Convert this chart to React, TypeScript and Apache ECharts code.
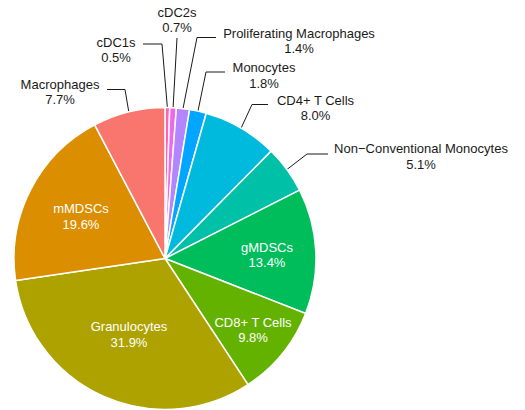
import React, { useEffect, useRef } from "react";
import * as echarts from "echarts";

// Cell-type composition, clockwise from 12 o'clock
const cellTypes = [
  "cDC1s",
  "cDC2s",
  "Proliferating Macrophages",
  "Monocytes",
  "CD4+ T Cells",
  "Non\u2212Conventional Monocytes",
  "gMDSCs",
  "CD8+ T Cells",
  "Granulocytes",
  "mMDSCs",
  "Macrophages",
];
const percents = [0.5, 0.7, 1.4, 1.8, 8.0, 5.1, 13.4, 9.8, 31.9, 19.6, 7.7];
const sliceColors = [
  "#FF63B6",
  "#EF67EB",
  "#B385FF",
  "#00A6FF",
  "#00BADE",
  "#00C1A7",
  "#00BD5C",
  "#64B200",
  "#AEA200",
  "#DB8E00",
  "#F8766D",
];
// labels printed on top of their slice (white, no leader line)
const insideLabels = ["gMDSCs", "CD8+ T Cells", "Granulocytes", "mMDSCs"];

// label placement: text block centre, and leader elbow/end points
const labelPlacement: Record<string, { at: [number, number]; line?: number[][] }> = {
  cDC1s: { at: [116, 50], line: [[162, 44], [143, 44]] },
  cDC2s: { at: [177, 20], line: [[177, 38], [177, 38]] },
  "Proliferating Macrophages": { at: [299, 41], line: [[197, 37.5], [216, 37.5]] },
  Monocytes: { at: [264, 75.5], line: [[206, 72], [225, 72]] },
  "CD4+ T Cells": { at: [315.5, 108], line: [[252, 104.5], [268, 104.5]] },
  "Non\u2212Conventional Monocytes": { at: [421, 156.5], line: [[307, 154], [328, 154]] },
  gMDSCs: { at: [267, 255] },
  "CD8+ T Cells": { at: [253, 330] },
  Granulocytes: { at: [129, 334.5] },
  mMDSCs: { at: [81, 216.5] },
  Macrophages: { at: [60, 92], line: [[125, 89.5], [107, 89.5]] },
};

const CX = 165;
const CY = 258.5;
const R = 151;

export default function App() {
  const ref = useRef<HTMLDivElement>(null);

  useEffect(() => {
    if (!ref.current) return;
    const chart = echarts.init(ref.current, undefined, { renderer: "svg" });

    const total = percents.reduce((a, b) => a + b, 0);
    const edgePoint = (idx: number): number[] => {
      let before = 0;
      for (let i = 0; i < idx; i++) before += percents[i];
      const mid = ((before + percents[idx] / 2) / total) * Math.PI * 2;
      return [CX + R * Math.sin(mid), CY - R * Math.cos(mid)];
    };

    const data = cellTypes.map((name, i) => {
      const inside = insideLabels.includes(name);
      return {
        name,
        value: percents[i],
        itemStyle: { color: sliceColors[i] },
        label: { color: inside ? "#ffffff" : "#1a1a1a" },
        labelLine: { show: !inside },
      };
    });

    chart.setOption({
      animation: false,
      backgroundColor: "#ffffff",
      series: [
        {
          type: "pie",
          center: [CX, CY],
          radius: [0, R],
          startAngle: 90,
          clockwise: true,
          avoidLabelOverlap: false,
          itemStyle: { borderColor: "#ffffff", borderWidth: 1.5 },
          emphasis: { disabled: true },
          label: {
            show: true,
            position: "outside",
            fontFamily: "'Liberation Sans', Arial, sans-serif",
            fontSize: 13,
            lineHeight: 15.5,
            align: "center",
            formatter: (p: any) => `${p.name}\n${Number(p.value).toFixed(1)}%`,
          },
          labelLine: {
            show: true,
            lineStyle: { color: "#1a1a1a", width: 1 },
          },
          labelLayout: (p: any) => {
            const name = cellTypes[p.dataIndex];
            const place = labelPlacement[name];
            const out: any = {
              x: place.at[0],
              y: place.at[1],
              align: "center",
              verticalAlign: "middle",
            };
            if (place.line) {
              const start =
                (p.labelLinePoints && p.labelLinePoints[0]) || edgePoint(p.dataIndex);
              out.labelLinePoints = [start, place.line[0], place.line[1]];
            }
            return out;
          },
          data,
        },
      ],
    });

    return () => chart.dispose();
  }, []);

  return (
    <div
      ref={ref}
      style={{ position: "fixed", left: 0, top: 0, width: 525, height: 410, background: "#fff" }}
    />
  );
}
